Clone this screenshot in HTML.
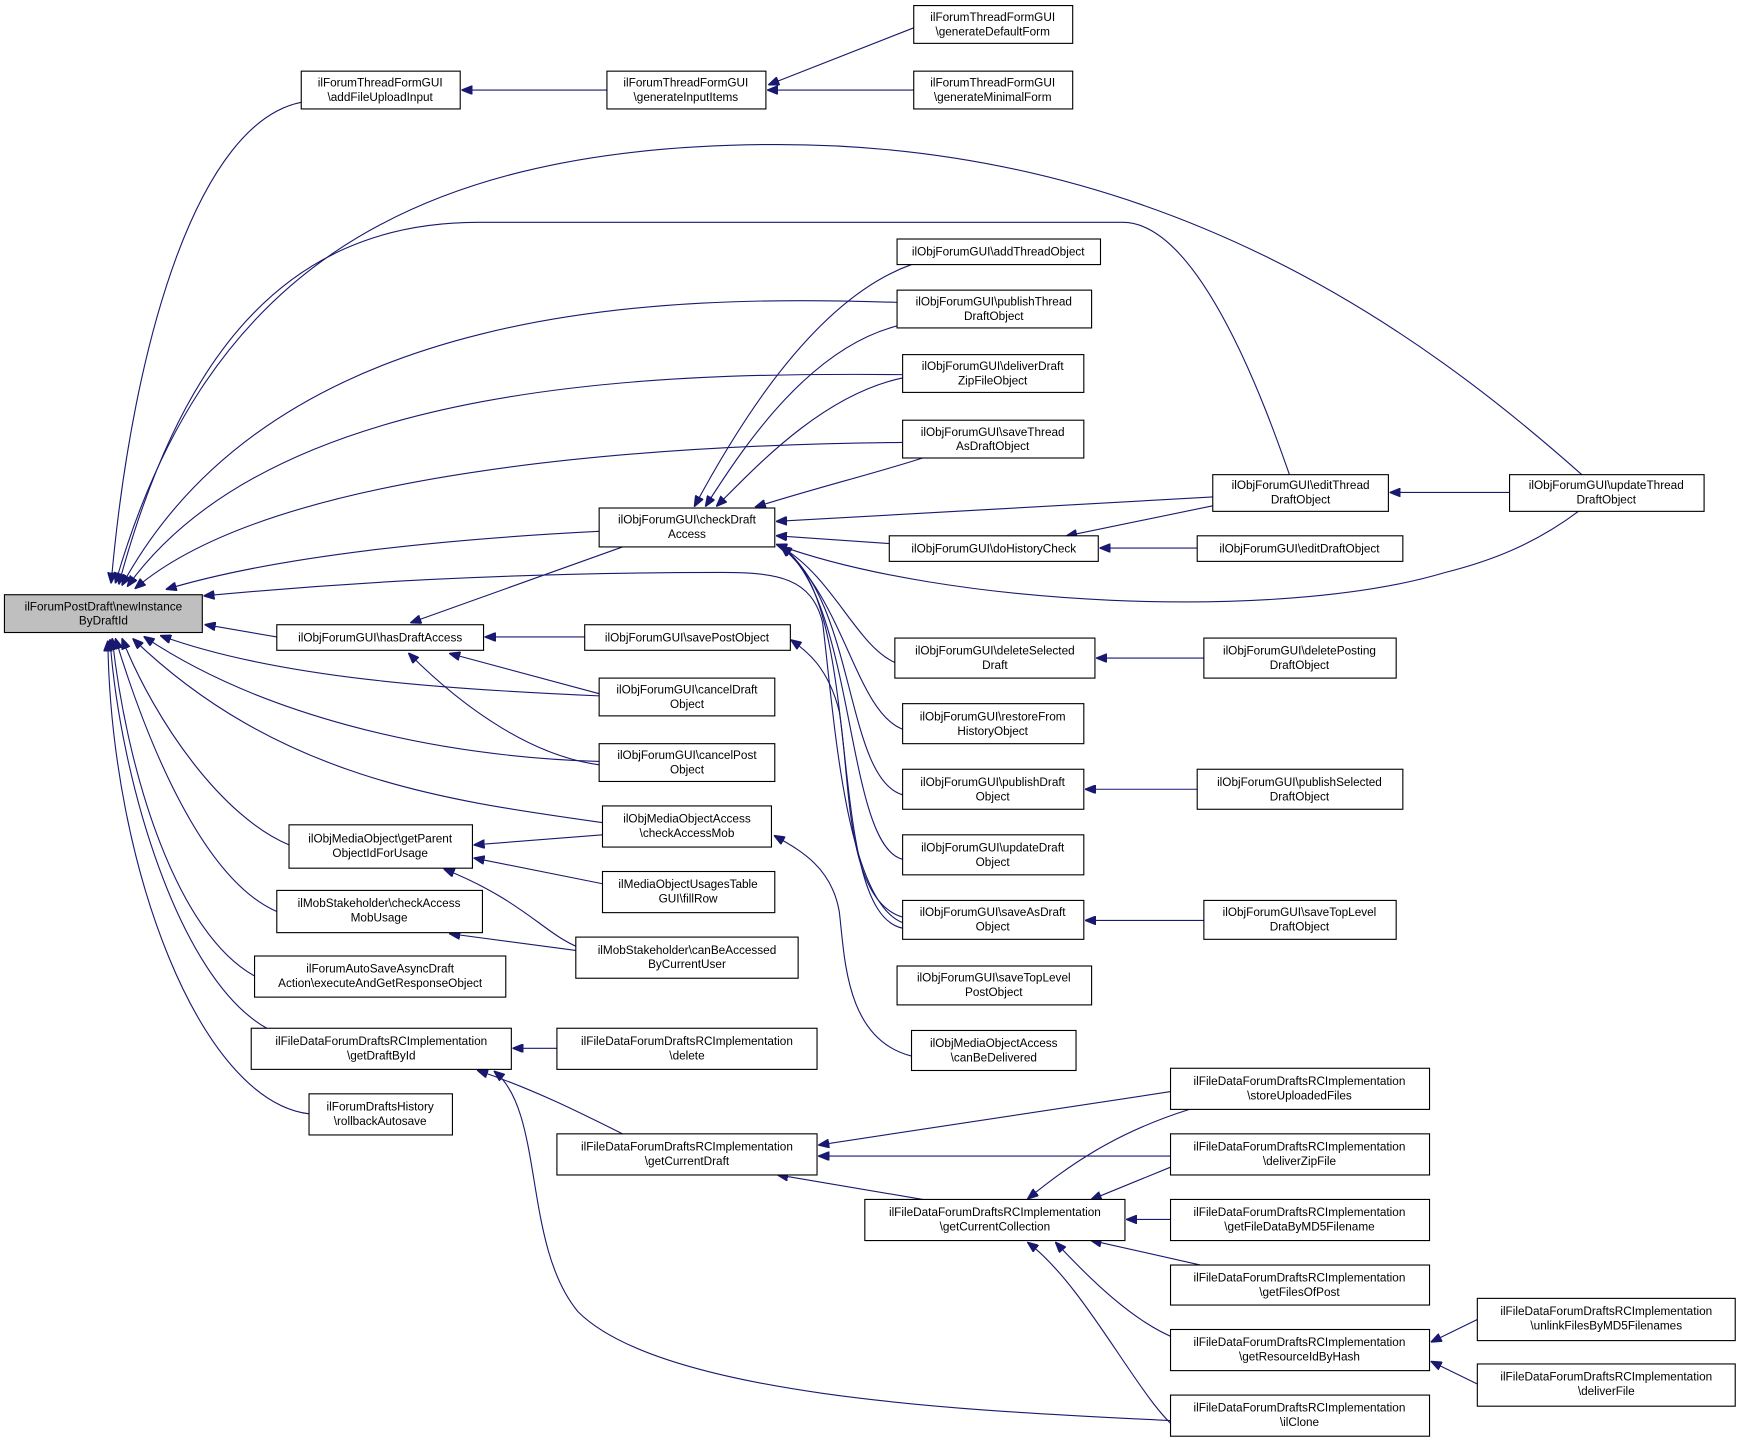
<!DOCTYPE html>
<html><head><meta charset="utf-8"><style>
html,body{margin:0;padding:0;background:#fff;}
svg{display:block;}
text{font-family:"Liberation Sans",Arial,sans-serif;font-size:10.6px;fill:#000;text-anchor:middle;}
rect{fill:#fff;stroke:#000;stroke-width:1;}
path{fill:none;stroke:#191970;stroke-width:1;}
</style></head><body>
<svg width="1743" height="1444" viewBox="0 0 1568 1299" xmlns="http://www.w3.org/2000/svg">
<defs><marker id="a" markerWidth="10" markerHeight="8" refX="9" refY="4" orient="auto" markerUnits="userSpaceOnUse"><path d="M0,0 L10,4 L0,8 Z" style="fill:#191970;stroke:#191970"/></marker></defs>
<g marker-end="url(#a)">
<path d="M271,92 C180,110 120,300 100,524"/>
<path d="M1423,427 C1280,300 1050,130 700,130 C350,130 180,260 104,524"/>
<path d="M1160,427 C1140,370 1080,200 1010,200 L430,200 C250,200 160,330 107,525"/>
<path d="M807,272 C600,265 250,270 110,526"/>
<path d="M812,337 C600,335 250,340 115,527"/>
<path d="M812,398 C600,400 250,420 122,529"/>
<path d="M539,478 C400,485 250,500 150,530"/>
<path d="M812,830 C760,810 750,640 740,560 C730,520 700,515 650,515 C450,515 300,525 184,536"/>
<path d="M249,573 L185,562"/>
<path d="M539,626 C400,620 250,610 145,572"/>
<path d="M539,685 C380,680 230,640 130,573"/>
<path d="M542,740 C400,720 250,700 120,575"/>
<path d="M260,760 C200,735 140,650 110,575"/>
<path d="M249,820 C180,790 130,660 104,575"/>
<path d="M229,878 C160,840 115,700 101,575"/>
<path d="M240,925 C160,880 108,700 99,576"/>
<path d="M278,1002 C180,990 100,780 97,577"/>
<path d="M820,238 C730,270 660,390 625,455"/>
<path d="M812,292 C730,310 670,400 635,455"/>
<path d="M812,340 C740,355 680,420 645,455"/>
<path d="M830,412 C790,425 730,440 680,456"/>
<path d="M1091,447 L699,469"/>
<path d="M800,489 L699,482"/>
<path d="M1420,460 C1380,490 1340,505 1300,515 C1150,560 850,545 699,490"/>
<path d="M805,596 C770,580 750,520 703,492"/>
<path d="M812,656 C770,640 760,540 703,492"/>
<path d="M812,715 C760,700 770,540 703,492"/>
<path d="M812,773 C760,760 770,540 703,492"/>
<path d="M812,835 C740,820 780,540 703,492"/>
<path d="M820,950 C760,935 760,860 755,820 C748,780 720,765 697,752"/>
<path d="M560,492 L370,560"/>
<path d="M526,573 L437,573"/>
<path d="M539,624 L405,588"/>
<path d="M539,688 C480,680 420,640 368,588"/>
<path d="M812,825 C760,810 765,700 755,640 C745,600 725,585 712,576"/>
<path d="M1091,455 L960,482"/>
<path d="M1077,493 L990,493"/>
<path d="M1358,443 L1251,443"/>
<path d="M1083,592 L987,592"/>
<path d="M1077,710 L977,710"/>
<path d="M1083,828 L977,828"/>
<path d="M546,81 L416,81"/>
<path d="M822,25 L692,76"/>
<path d="M822,81 L691,81"/>
<path d="M542,751 L427,760"/>
<path d="M542,795 L427,772"/>
<path d="M520,852 C490,840 470,810 400,782"/>
<path d="M518,855 L405,840"/>
<path d="M501,943 L462,943"/>
<path d="M560,1020 C520,1000 480,980 430,963"/>
<path d="M1053,1278 C900,1270 600,1260 520,1180 C470,1120 490,1000 445,964"/>
<path d="M1053,982 L737,1030"/>
<path d="M1053,1040 L737,1040"/>
<path d="M830,1079 L700,1057"/>
<path d="M1070,998 C1000,1020 960,1050 925,1078"/>
<path d="M1053,1050 L982,1079"/>
<path d="M1053,1097 L1014,1097"/>
<path d="M1080,1138 L982,1116"/>
<path d="M1060,1205 C1020,1190 980,1150 950,1118"/>
<path d="M1065,1290 C1030,1270 980,1160 925,1118"/>
<path d="M1329,1187 L1288,1207"/>
<path d="M1329,1245 L1288,1225"/>
</g>
<g>
<rect x="4" y="535" width="178" height="34" style="fill:#bfbfbf"/><text x="93" y="549">ilForumPostDraft\newInstance</text><text x="93" y="562">ByDraftId</text>
<rect x="271" y="64" width="143" height="34"/><text x="342" y="78">ilForumThreadFormGUI</text><text x="342" y="91">\addFileUploadInput</text>
<rect x="546" y="64" width="143" height="34"/><text x="617" y="78">ilForumThreadFormGUI</text><text x="617" y="91">\generateInputItems</text>
<rect x="822" y="5" width="143" height="34"/><text x="893" y="19">ilForumThreadFormGUI</text><text x="893" y="32">\generateDefaultForm</text>
<rect x="822" y="64" width="143" height="34"/><text x="893" y="78">ilForumThreadFormGUI</text><text x="893" y="91">\generateMinimalForm</text>
<rect x="807" y="215" width="183" height="23"/><text x="898" y="230">ilObjForumGUI\addThreadObject</text>
<rect x="807" y="261" width="175" height="34"/><text x="894" y="275">ilObjForumGUI\publishThread</text><text x="894" y="288">DraftObject</text>
<rect x="812" y="319" width="163" height="34"/><text x="893" y="333">ilObjForumGUI\deliverDraft</text><text x="893" y="346">ZipFileObject</text>
<rect x="812" y="378" width="163" height="34"/><text x="893" y="392">ilObjForumGUI\saveThread</text><text x="893" y="405">AsDraftObject</text>
<rect x="539" y="457" width="158" height="35"/><text x="618" y="471">ilObjForumGUI\checkDraft</text><text x="618" y="484">Access</text>
<rect x="1091" y="427" width="158" height="33"/><text x="1170" y="440">ilObjForumGUI\editThread</text><text x="1170" y="453">DraftObject</text>
<rect x="1358" y="427" width="175" height="33"/><text x="1445" y="440">ilObjForumGUI\updateThread</text><text x="1445" y="453">DraftObject</text>
<rect x="800" y="482" width="188" height="23"/><text x="894" y="497">ilObjForumGUI\doHistoryCheck</text>
<rect x="1077" y="482" width="185" height="23"/><text x="1169" y="497">ilObjForumGUI\editDraftObject</text>
<rect x="249" y="562" width="186" height="23"/><text x="342" y="577">ilObjForumGUI\hasDraftAccess</text>
<rect x="526" y="562" width="185" height="23"/><text x="618" y="577">ilObjForumGUI\savePostObject</text>
<rect x="539" y="610" width="158" height="34"/><text x="618" y="624">ilObjForumGUI\cancelDraft</text><text x="618" y="637">Object</text>
<rect x="539" y="669" width="158" height="34"/><text x="618" y="683">ilObjForumGUI\cancelPost</text><text x="618" y="696">Object</text>
<rect x="805" y="574" width="180" height="36"/><text x="895" y="589">ilObjForumGUI\deleteSelected</text><text x="895" y="602">Draft</text>
<rect x="1083" y="574" width="173" height="36"/><text x="1169" y="589">ilObjForumGUI\deletePosting</text><text x="1169" y="602">DraftObject</text>
<rect x="812" y="633" width="163" height="36"/><text x="893" y="648">ilObjForumGUI\restoreFrom</text><text x="893" y="661">HistoryObject</text>
<rect x="812" y="692" width="163" height="36"/><text x="893" y="707">ilObjForumGUI\publishDraft</text><text x="893" y="720">Object</text>
<rect x="1077" y="692" width="185" height="36"/><text x="1169" y="707">ilObjForumGUI\publishSelected</text><text x="1169" y="720">DraftObject</text>
<rect x="812" y="751" width="163" height="36"/><text x="893" y="766">ilObjForumGUI\updateDraft</text><text x="893" y="779">Object</text>
<rect x="812" y="810" width="163" height="35"/><text x="893" y="824">ilObjForumGUI\saveAsDraft</text><text x="893" y="837">Object</text>
<rect x="1083" y="810" width="173" height="35"/><text x="1169" y="824">ilObjForumGUI\saveTopLevel</text><text x="1169" y="837">DraftObject</text>
<rect x="807" y="869" width="175" height="35"/><text x="894" y="883">ilObjForumGUI\saveTopLevel</text><text x="894" y="896">PostObject</text>
<rect x="820" y="927" width="148" height="36"/><text x="894" y="942">ilObjMediaObjectAccess</text><text x="894" y="955">\canBeDelivered</text>
<rect x="542" y="725" width="152" height="37"/><text x="618" y="740">ilObjMediaObjectAccess</text><text x="618" y="753">\checkAccessMob</text>
<rect x="260" y="742" width="165" height="39"/><text x="342" y="758">ilObjMediaObject\getParent</text><text x="342" y="771">ObjectIdForUsage</text>
<rect x="542" y="784" width="155" height="37"/><text x="619" y="799">ilMediaObjectUsagesTable</text><text x="619" y="812">GUI\fillRow</text>
<rect x="249" y="801" width="185" height="38"/><text x="341" y="816">ilMobStakeholder\checkAccess</text><text x="341" y="829">MobUsage</text>
<rect x="518" y="843" width="200" height="37"/><text x="618" y="858">ilMobStakeholder\canBeAccessed</text><text x="618" y="871">ByCurrentUser</text>
<rect x="229" y="860" width="226" height="37"/><text x="342" y="875">ilForumAutoSaveAsyncDraft</text><text x="342" y="888">Action\executeAndGetResponseObject</text>
<rect x="226" y="925" width="234" height="37"/><text x="343" y="940">ilFileDataForumDraftsRCImplementation</text><text x="343" y="953">\getDraftById</text>
<rect x="501" y="925" width="234" height="37"/><text x="618" y="940">ilFileDataForumDraftsRCImplementation</text><text x="618" y="953">\delete</text>
<rect x="278" y="984" width="129" height="37"/><text x="342" y="999">ilForumDraftsHistory</text><text x="342" y="1012">\rollbackAutosave</text>
<rect x="501" y="1020" width="234" height="37"/><text x="618" y="1035">ilFileDataForumDraftsRCImplementation</text><text x="618" y="1048">\getCurrentDraft</text>
<rect x="778" y="1079" width="234" height="37"/><text x="895" y="1094">ilFileDataForumDraftsRCImplementation</text><text x="895" y="1107">\getCurrentCollection</text>
<rect x="1053" y="961" width="233" height="37"/><text x="1169" y="976">ilFileDataForumDraftsRCImplementation</text><text x="1169" y="989">\storeUploadedFiles</text>
<rect x="1053" y="1020" width="233" height="37"/><text x="1169" y="1035">ilFileDataForumDraftsRCImplementation</text><text x="1169" y="1048">\deliverZipFile</text>
<rect x="1053" y="1079" width="233" height="37"/><text x="1169" y="1094">ilFileDataForumDraftsRCImplementation</text><text x="1169" y="1107">\getFileDataByMD5Filename</text>
<rect x="1053" y="1138" width="233" height="36"/><text x="1169" y="1153">ilFileDataForumDraftsRCImplementation</text><text x="1169" y="1166">\getFilesOfPost</text>
<rect x="1053" y="1196" width="233" height="37"/><text x="1169" y="1211">ilFileDataForumDraftsRCImplementation</text><text x="1169" y="1224">\getResourceIdByHash</text>
<rect x="1053" y="1255" width="233" height="37"/><text x="1169" y="1270">ilFileDataForumDraftsRCImplementation</text><text x="1169" y="1283">\ilClone</text>
<rect x="1329" y="1168" width="232" height="38"/><text x="1445" y="1183">ilFileDataForumDraftsRCImplementation</text><text x="1445" y="1196">\unlinkFilesByMD5Filenames</text>
<rect x="1329" y="1227" width="232" height="38"/><text x="1445" y="1242">ilFileDataForumDraftsRCImplementation</text><text x="1445" y="1255">\deliverFile</text>
</g>
</svg>
</body></html>
